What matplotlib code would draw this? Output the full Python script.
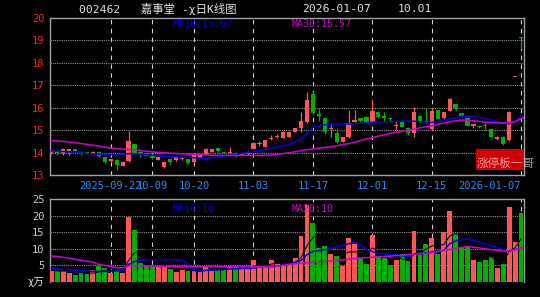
import matplotlib
matplotlib.use("Agg")
import matplotlib.pyplot as plt
from matplotlib.patches import Rectangle
import pandas as pd

# daily bars, 2025-09-08 .. 2026-01-07
opens = [13.96, 14.05, 13.97, 14.08, 14.16, 14.02, 14.01, 14.00, 14.02, 13.82,
         13.63, 13.67, 13.40, 13.62, 14.38, 14.04, 13.97, 13.86, 13.68, 13.36,
         13.70, 13.67, 13.70, 13.70, 13.57, 13.77, 13.92, 14.04, 14.19, 14.01,
         14.00, 13.95, 13.90, 13.93, 14.16, 14.37, 14.26, 14.62, 14.70, 14.67,
         14.71, 14.93, 15.08, 15.35, 16.60, 15.71, 15.53, 15.04, 14.86, 14.49,
         14.71, 15.38, 15.53, 15.60, 15.38, 15.83, 15.62, 15.52, 15.20, 15.41,
         15.10, 14.86, 15.65, 15.42, 15.05, 15.90, 15.53, 15.86, 16.16, 15.75,
         15.53, 15.20, 15.20, 15.22, 15.05, 14.59, 14.71, 14.56, 17.39, 19.13]
highs = [14.12, 14.08, 14.22, 14.18, 14.18, 14.08, 14.04, 14.05, 14.06, 13.86,
         13.72, 13.70, 13.63, 14.98, 14.40, 14.06, 14.00, 13.88, 13.83, 13.62,
         13.72, 13.84, 13.84, 13.72, 13.90, 13.95, 14.20, 14.17, 14.21, 14.05,
         14.26, 14.04, 14.02, 14.06, 14.45, 14.50, 14.58, 14.80, 14.83, 14.96,
         14.95, 15.10, 15.83, 16.72, 16.70, 16.00, 15.55, 15.31, 15.08, 14.70,
         15.90, 15.90, 15.56, 15.63, 16.35, 15.86, 15.83, 15.56, 15.40, 15.44,
         15.12, 16.05, 15.68, 15.98, 16.05, 15.92, 15.82, 16.45, 16.18, 15.78,
         15.55, 15.28, 15.22, 15.30, 15.07, 14.72, 14.73, 15.84, 17.39, 19.13]
lows = [13.92, 13.90, 13.90, 13.90, 14.05, 13.90, 13.95, 13.97, 13.80, 13.55,
        13.60, 13.22, 13.38, 13.60, 13.95, 13.80, 13.83, 13.72, 13.65, 13.30,
        13.50, 13.64, 13.68, 13.50, 13.55, 13.75, 13.90, 14.02, 14.03, 13.96,
        13.98, 13.80, 13.88, 13.90, 14.14, 14.28, 14.24, 14.56, 14.64, 14.64,
        14.68, 14.90, 14.93, 15.30, 15.72, 15.41, 14.85, 14.71, 14.43, 14.46,
        14.65, 15.35, 15.38, 15.30, 15.33, 15.55, 15.40, 15.42, 15.00, 15.12,
        14.80, 14.71, 15.30, 15.30, 15.00, 15.48, 15.50, 15.84, 15.90, 15.58,
        15.18, 15.10, 15.08, 15.02, 14.69, 14.55, 14.35, 14.52, 17.39, 18.62]
closes = [14.08, 13.96, 14.15, 14.16, 14.08, 13.98, 13.97, 14.02, 13.85, 13.60,
          13.70, 13.45, 13.60, 14.53, 14.00, 13.96, 13.86, 13.76, 13.80, 13.60,
          13.56, 13.82, 13.82, 13.53, 13.89, 13.92, 14.15, 14.15, 14.05, 14.00,
          14.03, 13.92, 14.00, 14.03, 14.42, 14.42, 14.56, 14.66, 14.74, 14.93,
          14.93, 15.08, 15.41, 16.35, 15.78, 15.63, 14.93, 15.11, 14.49, 14.68,
          15.31, 15.46, 15.41, 15.35, 15.86, 15.60, 15.55, 15.48, 15.24, 15.16,
          14.88, 15.80, 15.35, 15.38, 15.86, 15.50, 15.80, 16.39, 15.98, 15.60,
          15.20, 15.26, 15.15, 15.18, 14.71, 14.68, 14.37, 15.81, 17.39, 19.10]
# volume, x10k
volumes = [3.5, 3.2, 3.2, 2.8, 2.0, 2.8, 2.3, 3.5, 4.7, 4.1,
           2.7, 3.5, 2.7, 19.5, 15.7, 5.7, 4.9, 4.5, 4.5, 4.5,
           3.8, 3.0, 3.5, 3.2, 3.4, 3.1, 4.9, 3.2, 3.7, 3.5,
           4.9, 4.9, 3.8, 3.8, 6.7, 4.9, 4.9, 6.7, 5.5, 5.1,
           5.1, 7.3, 13.8, 23.1, 17.7, 10.3, 10.9, 8.5, 7.7, 4.7,
           13.3, 11.3, 7.3, 5.3, 14.3, 7.8, 7.1, 5.0, 6.5, 8.3,
           6.2, 15.4, 8.1, 11.3, 13.3, 8.3, 15.1, 21.3, 14.7, 10.3,
           10.7, 6.7, 5.9, 6.7, 7.5, 4.1, 5.5, 22.5, 12.0, 20.9]

# moving averages (history before the window is not shown)
ma10_idx = [0, 3, 5, 8, 11, 13, 16, 19, 21, 24, 26, 28, 30, 33, 36, 38, 40, 42, 44, 46,
            48, 50, 52, 54, 57, 60, 62, 64, 66, 68, 69, 70, 72, 74, 75, 77, 78, 79.5]
ma10_val = [14.08, 14.03, 13.98, 13.93, 13.89, 13.95, 13.91, 13.83, 13.81, 13.77, 13.74,
            13.80, 13.88, 14.00, 14.14, 14.25, 14.36, 14.60, 15.12, 15.25, 15.27, 15.27,
            15.30, 15.35, 15.38, 15.41, 15.38, 15.34, 15.42, 15.55, 15.62, 15.62, 15.57,
            15.45, 15.38, 15.28, 15.40, 15.67]
ma30_idx = [0, 2, 4, 7, 10, 14, 17, 20, 24, 27, 31, 34, 37, 40, 43, 47, 50, 53, 57, 60,
            64, 67, 69, 71, 73, 76, 78, 79.5]
ma30_val = [14.53, 14.50, 14.44, 14.33, 14.20, 14.12, 14.03, 13.97, 13.92, 13.88, 13.87,
            13.87, 13.89, 13.99, 14.13, 14.26, 14.40, 14.60, 14.86, 15.00, 15.20, 15.38,
            15.45, 15.42, 15.36, 15.31, 15.38, 15.57]
vma10_idx = [0, 2, 4, 7, 10, 12, 13, 14, 15, 17, 22, 23, 24, 25, 27, 30, 34, 36, 38, 40,
             42, 43, 44, 47, 49, 51, 52, 53, 55, 58, 60, 61, 64, 66, 67, 68, 70, 72, 75,
             77, 78, 79.5]
vma10_val = [4.2, 3.8, 3.5, 3.2, 3.2, 3.4, 5.3, 6.2, 6.6, 6.7, 6.7, 5.5, 3.6, 3.3, 3.6,
             3.9, 4.2, 4.7, 4.8, 5.3, 6.5, 8.2, 9.2, 10.0, 11.0, 12.0, 11.2, 9.7, 8.6, 8.2,
             7.6, 8.4, 9.0, 9.5, 11.5, 12.4, 13.0, 12.0, 10.4, 9.2, 9.8, 10.3]
vma20_idx = [0, 1, 3, 5, 7, 8, 10, 11, 12, 13, 16, 20, 25, 30, 34, 37, 40, 44, 47, 50,
             54, 57, 60, 64, 67, 70, 73, 76, 78, 79.5]
vma20_val = [7.8, 7.7, 7.2, 6.5, 6.0, 5.3, 4.7, 4.3, 4.3, 4.8, 4.8, 4.6, 4.6, 4.6, 4.6,
             4.5, 5.3, 6.0, 6.3, 6.9, 7.5, 7.8, 8.2, 8.8, 9.8, 10.7, 10.0, 9.3, 9.7, 10.3]

date_idx = [10, 17, 24, 34, 44, 54, 64, 79]
date_labels = ["2025-09-22", "10-09", "10-20", "11-03", "11-17", "12-01", "12-15", "2026-01-07"]

RED = "#ff5555"
GREEN = "#00b000"
BLUE = "#0000f0"
MAGENTA = "#d000d0"
FRAME = "#a0a0a0"
MONO = "DejaVu Sans Mono"

W, H = 540, 297
fig = plt.figure(figsize=(5.4, 2.97), dpi=100, facecolor="black")
ax = fig.add_axes([50 / W, 1 - 175 / H, 474 / W, 157 / H], facecolor="black")
axv = fig.add_axes([50 / W, 1 - 282 / H, 474 / W, 83 / H], facecolor="black")

n = len(closes)
xs = list(range(n))
colors = [RED if closes[i] >= opens[i] else GREEN for i in xs]

# candles
bottoms = [min(opens[i], closes[i]) for i in xs]
heights = [max(abs(closes[i] - opens[i]), 0.045) for i in xs]
ax.vlines(xs, lows, highs, colors=colors, linewidth=0.9, zorder=3)
ax.bar(xs, heights, 0.72, bottom=bottoms, color=colors, linewidth=0, zorder=4)
ax.plot(ma10_idx, ma10_val, color=BLUE, lw=1.1, zorder=5)
ax.plot(ma30_idx, ma30_val, color=MAGENTA, lw=1.1, zorder=5)

# volume
axv.bar(xs, volumes, 0.82, color=colors, linewidth=0, zorder=3)
vma5 = pd.Series(volumes).rolling(5, min_periods=1).mean()
axv.plot(xs, vma5, color="#101010", lw=0.8, zorder=4)
axv.plot(vma10_idx, vma10_val, color=BLUE, lw=1.1, zorder=5)
axv.plot(vma20_idx, vma20_val, color=MAGENTA, lw=1.1, zorder=5)

for a in (ax, axv):
    a.set_xlim(-0.22, 79.5)
    for s in a.spines.values():
        s.set_color(FRAME)
        s.set_linewidth(1.0)
    for d in date_idx:
        a.axvline(d, color="#d0d0d0", lw=0.8, ls=(0, (4, 4)), zorder=1)
    a.tick_params(length=0, pad=4)

ax.set_ylim(13, 20)
ax.set_yticks(range(13, 21))
ax.set_yticklabels([str(v) for v in range(13, 21)], color="#ff2020", fontsize=7.5, family=MONO)
for v in range(14, 20):
    ax.axhline(v, color="#909090", lw=0.8, ls=(0, (1, 1)), zorder=1)
ax.set_xticks(date_idx)
ax.set_xticklabels(date_labels, color="#2a8cff", fontsize=7.5, family=MONO)
ax.get_xticklabels()[-1].set_horizontalalignment("right")

axv.set_ylim(0, 25)
axv.set_yticks([5, 10, 15, 20, 25])
axv.set_yticklabels(["5", "10", "15", "20", "25"], color="#c8c8c8", fontsize=7.5, family=MONO)
for v in (5, 10, 15, 20):
    axv.axhline(v, color="#909090", lw=0.8, ls=(0, (1, 1)), zorder=1)
axv.set_xticks([])
axv.spines["bottom"].set_visible(False)


def px(x, y):
    return x / W, 1 - y / H


# header texts
fig.text(*px(79, 9), "002462   嘉事堂 -χ日K线图", color="#e0e0e0", fontsize=8.2,
         family=[MONO, "Noto Sans CJK SC"], va="center", ha="left")
fig.text(*px(302, 9), "2026-01-07", color="#e0e0e0", fontsize=8.2, family=MONO, va="center")
fig.text(*px(398, 9), "10.01", color="#e0e0e0", fontsize=8.2, family=MONO, va="center")
fig.text(*px(173, 24), "MA10:15.67", color=BLUE, fontsize=7.2, family=MONO, va="center")
fig.text(*px(292, 24), "MA30:15.57", color=MAGENTA, fontsize=7.2, family=MONO, va="center")
fig.text(*px(173, 209), "MA10:10", color=BLUE, fontsize=7.2, family=MONO, va="center")
fig.text(*px(292, 209), "MA20:10", color=MAGENTA, fontsize=7.2, family=MONO, va="center")
fig.text(*px(28, 282), "χ万", color="#e0e0e0", fontsize=7.5,
         family=[MONO, "Noto Sans CJK SC"], va="center")

# watermark box
fig.patches.append(Rectangle(px(476, 170), 48 / W, 21 / H, transform=fig.transFigure,
                             facecolor="#d00000", edgecolor="none", zorder=10))
fig.text(*px(477, 163), "涨停板一哥", color="white", alpha=0.6, fontsize=8.4,
         family="Noto Sans CJK SC", va="center", ha="left", zorder=11)

fig.savefig("out.png", dpi=100, facecolor="black")
